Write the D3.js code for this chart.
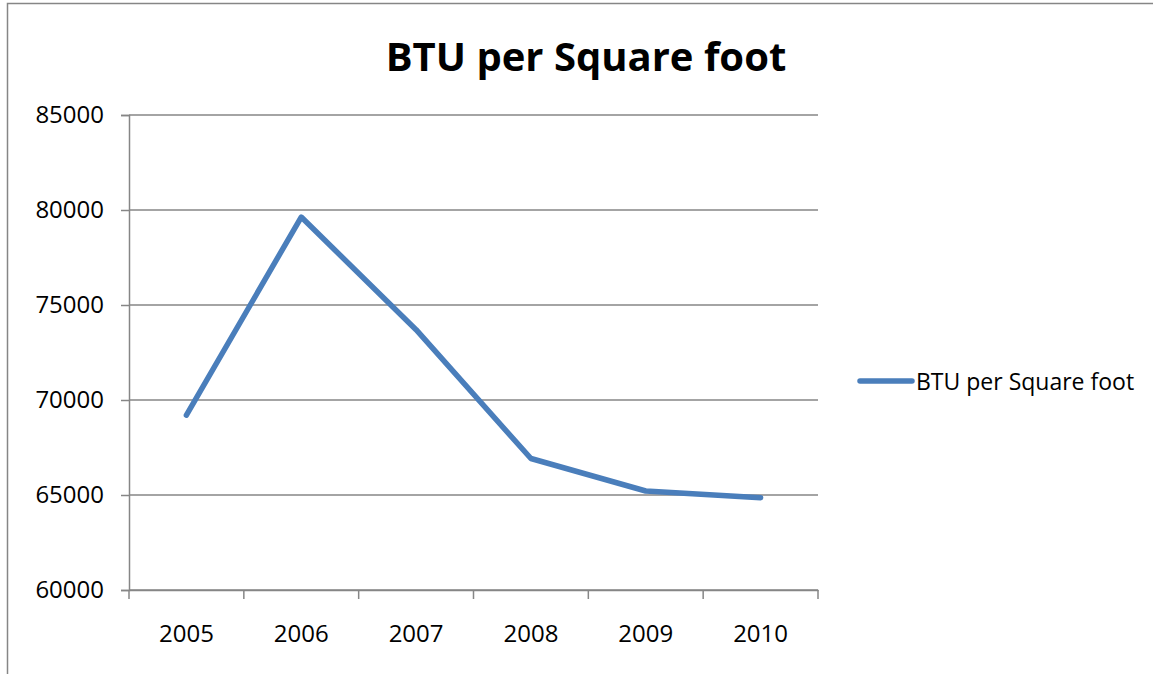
<!DOCTYPE html>
<html>
<head>
<meta charset="utf-8">
<script src="https://cdn.jsdelivr.net/npm/d3@7"></script>
<style>
    body { margin: 0; background: #fff; }
    text { font-family: "Open Sans", "Noto Sans", sans-serif; fill: #000; }
</style>
</head>
<body>
<div id="chart"></div>
<script>
// chart data
const years = ["2005", "2006", "2007", "2008", "2009", "2010"];
const btuValues = [69200, 79630, 73700, 66920, 65210, 64860];
const yTicks = [60000, 65000, 70000, 75000, 80000, 85000];
const seriesName = "BTU per Square foot";
const chartTitle = "BTU per Square foot";

const W = 1153, H = 674;
const margin = {top: 115, left: 129, right: 335, bottom: 84};
const width = W - margin.left - margin.right;
const height = H - margin.top - margin.bottom;

const svg = d3.select("#chart").append("svg")
    .attr("width", W)
    .attr("height", H);

// outer chart frame (only top and left edges visible)
svg.append("rect")
    .attr("x", 7.5).attr("y", 3.5)
    .attr("width", W + 20).attr("height", H + 20)
    .attr("fill", "none")
    .attr("stroke", "#868686")
    .attr("stroke-width", 1.5);

svg.append("text")
    .attr("x", 586).attr("y", 55)
    .attr("text-anchor", "middle")
    .attr("dominant-baseline", "central")
    .style("font-size", "40px")
    .style("font-weight", "bold")
    .text(chartTitle);

const g = svg.append("g")
    .attr("transform", `translate(${margin.left},${margin.top})`);

const x = d3.scaleBand().domain(years).range([0, width]);
const y = d3.scaleLinear().domain([60000, 85000]).range([height, 0]);

// gridlines
g.selectAll(".grid")
    .data(yTicks)
    .join("line")
    .attr("class", "grid")
    .attr("x1", 0).attr("x2", width)
    .attr("y1", d => y(d)).attr("y2", d => y(d))
    .attr("stroke", "#868686")
    .attr("stroke-width", 1.5);

// y axis
const yAxis = g.append("g")
    .call(d3.axisLeft(y).tickValues(yTicks).tickSize(8).tickPadding(17).tickFormat(d3.format("d")));
yAxis.select(".domain").attr("stroke", "#868686").attr("stroke-width", 1.5);
yAxis.selectAll(".tick line").attr("stroke", "#868686").attr("stroke-width", 1.5);
yAxis.selectAll("text").style("font-size", "24px").attr("font-family", null);

// x axis
const xAxis = g.append("g")
    .attr("transform", `translate(0,${height})`)
    .call(d3.axisBottom(x).tickSize(0).tickPadding(35));
xAxis.select(".domain").attr("stroke", "#868686").attr("stroke-width", 1.5);
xAxis.selectAll("text").style("font-size", "24px").attr("font-family", null);

// x tick marks at band boundaries
const bounds = years.map(d => x(d)).concat([width]);
g.selectAll(".xtick")
    .data(bounds)
    .join("line")
    .attr("class", "xtick")
    .attr("x1", d => d).attr("x2", d => d)
    .attr("y1", height).attr("y2", height + 9)
    .attr("stroke", "#868686")
    .attr("stroke-width", 1.5);

// series line
const line = d3.line()
    .x((d, i) => x(years[i]) + x.bandwidth() / 2)
    .y(d => y(d));

g.append("path")
    .datum(btuValues)
    .attr("fill", "none")
    .attr("stroke", "#4a7ebb")
    .attr("stroke-width", 5.5)
    .attr("stroke-linecap", "round")
    .attr("stroke-linejoin", "round")
    .attr("d", line);

// legend
const legend = svg.append("g").attr("transform", "translate(860,381)");
legend.append("line")
    .attr("x1", 0).attr("x2", 52)
    .attr("stroke", "#4a7ebb")
    .attr("stroke-width", 5.5)
    .attr("stroke-linecap", "round");
legend.append("text")
    .attr("x", 56)
    .attr("dominant-baseline", "central")
    .style("font-size", "23px")
    .text(seriesName);
</script>
</body>
</html>
